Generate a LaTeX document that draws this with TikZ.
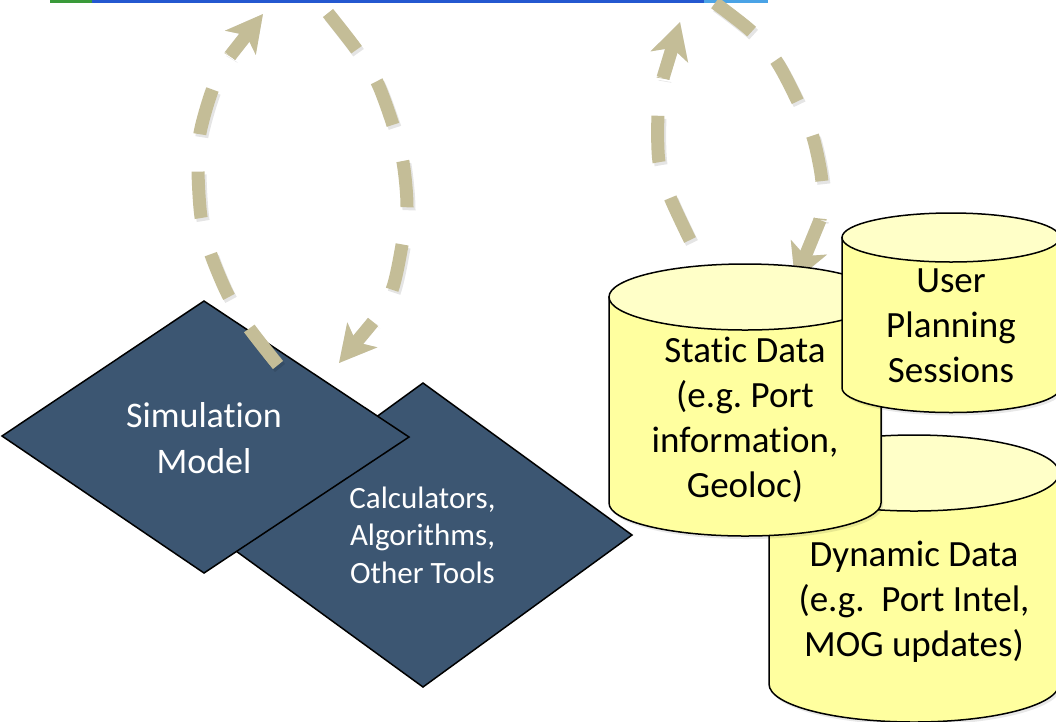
\documentclass[tikz,border=0pt]{standalone}
\usepackage{fontspec}
\setmainfont{Carlito}[Ligatures={CommonOff,ContextualOff,RareOff}]
\usetikzlibrary{arrows.meta}
\definecolor{loopc}{HTML}{C4BD97}
\definecolor{slate}{HTML}{3C5672}
\definecolor{cylbody}{HTML}{FFFF9F}
\definecolor{cyltopc}{HTML}{FFFFC8}
\definecolor{barblue}{HTML}{2458D0}
\definecolor{bargreen}{HTML}{3A9A3A}
\definecolor{barlight}{HTML}{4AA3E6}
\newcommand{\mycyl}[5]{%
  \fill[black, opacity=.09] ({#1-#2+2},{#3+3}) -- ({#1-#2+2},{#4+3}) arc[start angle=180,end angle=0,x radius=#2,y radius=#5] -- ({#1+#2+2},{#3+3}) arc[start angle=0,end angle=-180,x radius=#2,y radius=#5] -- cycle;
  \filldraw[cylside] ({#1-#2},#3) -- ({#1-#2},#4) arc[start angle=180,end angle=0,x radius=#2,y radius=#5] -- ({#1+#2},#3) -- cycle;
  \filldraw[cyltop] (#1,#3) ellipse[x radius=#2, y radius=#5];
}
\begin{document}
\frenchspacing
\begin{tikzpicture}[x=1pt,y=-1pt,
  diamondbox/.style={fill=slate, draw=black, line width=1.5pt, line join=miter},
  shapeshadow/.style={fill=black, opacity=.1, shift={(2,3)}},
  cylside/.style={fill=cylbody, draw=black, line width=1.5pt},
  cyltop/.style={fill=cyltopc, draw=black, line width=1.5pt},
  loopdash/.style={draw=loopc, line width=13pt, dash pattern=on 46.5pt off 37.5pt},
  loopshadow/.style={draw=black, opacity=.1, line width=13pt, dash pattern=on 46.5pt off 37.5pt, shift={(2,3)}},
  looparrow/.style={draw=loopc, fill=loopc, line width=13pt, -{Stealth[length=36pt,width=38pt,inset=9pt]}},
  looparrowshadow/.style={draw=black, fill=black, opacity=.1, line width=13pt, shift={(2,3)}, -{Stealth[length=36pt,width=38pt,inset=9pt]}},
  whitelbl/.style={text=white, inner sep=0pt, anchor=base},
  blacklbl/.style={text=black, inner sep=0pt, anchor=base}]
\useasboundingbox (0,0) rectangle (1056,721);
\fill[white] (0,0) rectangle (1056,721);

% top bar
\fill[barblue] (50,0) rectangle (768,3);
\fill[bargreen] (50,0) rectangle (92,3);
\fill[barlight] (704,0) rectangle (768,3);

% diamonds
\coordinate (d1t) at (204,301); \coordinate (d1r) at (409,437);
\coordinate (d1b) at (204,573); \coordinate (d1l) at (2,436);
\coordinate (d2t) at (423,383); \coordinate (d2r) at (632,535);
\coordinate (d2b) at (423,687); \coordinate (d2l) at (214,535);
\fill[shapeshadow] (d2t) -- (d2r) -- (d2b) -- (d2l) -- cycle;
\filldraw[diamondbox] (d2t) -- (d2r) -- (d2b) -- (d2l) -- cycle;
\fill[shapeshadow] (d1t) -- (d1r) -- (d1b) -- (d1l) -- cycle;
\filldraw[diamondbox] (d1t) -- (d1r) -- (d1b) -- (d1l) -- cycle;
\node[whitelbl, font=\fontsize{36}{46}\selectfont] (sim) at (204,427)
  {\begin{tabular}[t]{@{}c@{}}Simulation\\Model\end{tabular}};
\node[whitelbl, font=\fontsize{31}{37.5}\selectfont] (calc) at (422.5,508)
  {\begin{tabular}[t]{@{}c@{}}Calculators,\\Algorithms,\\Other Tools\end{tabular}};

% left loop
\coordinate (A0) at (278,365); \coordinate (Aend) at (230,56); \coordinate (Atip) at (263,14);
\coordinate (B0) at (328,13); \coordinate (Bend) at (373,322); \coordinate (Btip) at (339,363);
\draw[loopshadow] plot[smooth] coordinates {(278,365) (249,328) (228,295) (210,252) (201,217) (198,170) (200,133) (213,88) (230,56)};
\draw[loopdash] plot[smooth] coordinates {(278,365) (249,328) (228,295) (210,252) (201,217) (198,170) (200,133) (213,88) (230,56)};
\draw[looparrowshadow] (Aend) -- (Atip);
\draw[looparrow] (Aend) -- (Atip);
\draw[loopshadow] plot[smooth] coordinates {(328,13) (356,49) (377,82) (393,125) (403,162) (407,207) (402,245) (392,290) (373,322)};
\draw[loopdash] plot[smooth] coordinates {(328,13) (356,49) (377,82) (393,125) (403,162) (407,207) (402,245) (392,290) (373,322)};
\draw[looparrowshadow] (Bend) -- (Btip);
\draw[looparrow] (Bend) -- (Btip);

% right loop
\coordinate (C0) at (690,240); \coordinate (Cend) at (663,78); \coordinate (Ctip) at (680,22);
\coordinate (D0) at (715,3); \coordinate (Dend) at (820,220); \coordinate (Dtip) at (795,281);
\draw[loopshadow] plot[smooth] coordinates {(690,240) (670,197) (659,162) (658,115) (663,78)};
\draw[loopdash] plot[smooth] coordinates {(690,240) (670,197) (659,162) (658,115) (663,78)};
\draw[looparrowshadow] (Cend) -- (Ctip);
\draw[looparrow] (Cend) -- (Ctip);
\draw[loopshadow] plot[smooth] coordinates {(715,3) (752,32) (777,62) (798,102) (813,137) (822,182) (820,220)};
\draw[loopdash] plot[smooth] coordinates {(715,3) (752,32) (777,62) (798,102) (813,137) (822,182) (820,220)};
\draw[looparrowshadow] (Dend) -- (Dtip);
\draw[looparrow] (Dend) -- (Dtip);

% cylinders
\mycyl{914}{145}{473}{684}{38}
\node[blacklbl, font=\fontsize{37}{45}\selectfont] (dyn) at (914,566)
  {\begin{tabular}[t]{@{}c@{}}Dynamic Data\\(e.g.\ \ Port Intel,\\MOG updates)\end{tabular}};
\mycyl{745}{136}{297}{503}{33}
\node[blacklbl, font=\fontsize{37}{45}\selectfont] (static) at (745,362)
  {\begin{tabular}[t]{@{}c@{}}Static Data\\(e.g. Port\\information,\\Geoloc)\end{tabular}};
\mycyl{951}{109}{237.5}{388}{24.5}
\node[blacklbl, font=\fontsize{37}{45}\selectfont] (user) at (951,292)
  {\begin{tabular}[t]{@{}c@{}}User\\Planning\\Sessions\end{tabular}};
\end{tikzpicture}
\end{document}
